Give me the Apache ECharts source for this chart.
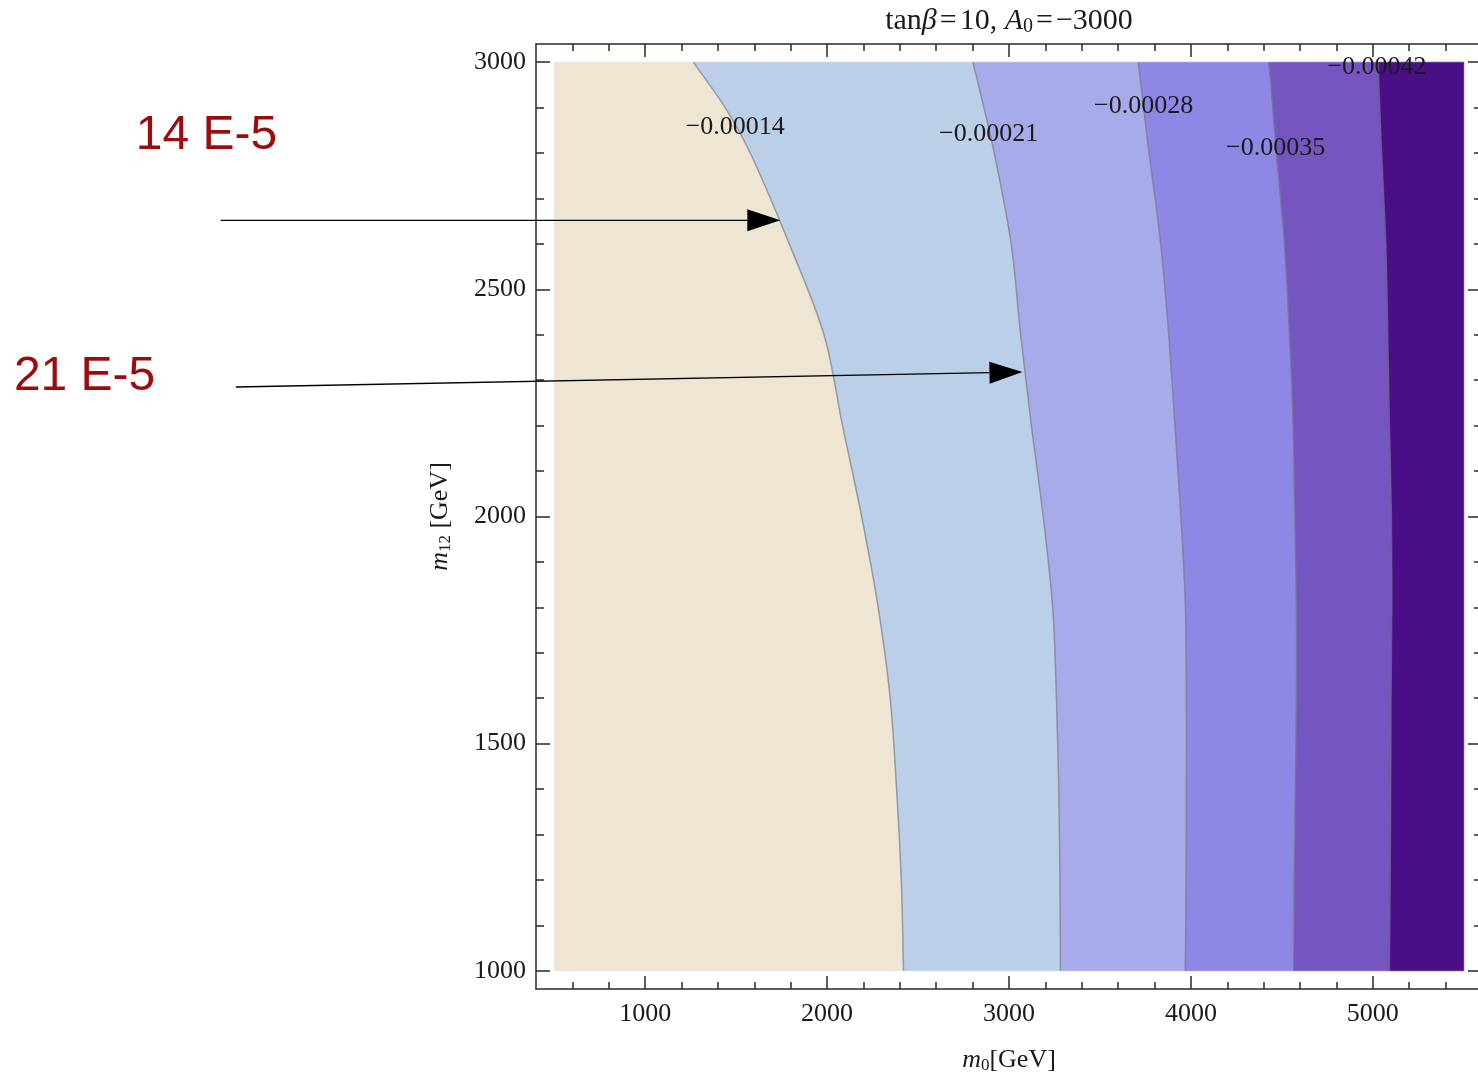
<!DOCTYPE html>
<html>
<head>
<meta charset="utf-8">
<script src="https://cdn.jsdelivr.net/npm/echarts@6/dist/echarts.min.js"></script>
<style>
html, body { margin: 0; padding: 0; background: #fff; }
#chart { width: 1478px; height: 1078px; }
</style>
</head>
<body>
<div id="chart"></div>
<script>
// m12 sample heights and the m0 position of each contour at those heights
const m12 = [1000, 1200, 1400, 1600, 1800, 2000, 2200, 2400, 2600, 2800, 2900, 3000];
const c014 = [2420, 2408, 2382, 2347, 2281, 2190, 2085, 1983, 1792, 1578, 1440, 1264];
const c021 = [3283, 3280, 3274, 3261, 3240, 3188, 3123, 3064, 3012, 2919, 2862, 2802];
const c028 = [3969, 3974, 3975, 3975, 3970, 3945, 3912, 3878, 3834, 3770, 3740, 3710];
const c035 = [4565, 4568, 4574, 4580, 4580, 4571, 4562, 4542, 4514, 4470, 4450, 4429];
const c042 = [5091, 5095, 5098, 5100, 5104, 5102, 5091, 5082, 5071, 5048, 5038, 5028];
const m0Range = [500, 5500];

const contourLabels = ["\u22120.00014", "\u22120.00021", "\u22120.00028", "\u22120.00035", "\u22120.00042"];
const contourLabelAt = [[1495, 2857], [2888, 2842], [3740, 2904], [4466, 2811], [5022, 2989]];

const noteText = ["14 E-5", "21 E-5"];
const noteAt = [[-1800, 2837], [-2470, 2307]];
const arrowFrom = [[-1333, 2652], [-1250, 2285]];
const arrowTo = [[1743, 2652], [3074, 2318]];

const xMajor = [1000, 2000, 3000, 4000, 5000];
const yMajor = [1000, 1500, 2000, 2500, 3000];
const xMinor = [];
for (let v = 600; v <= 5400; v += 200) xMinor.push(v);
const yMinor = [];
for (let v = 1000; v <= 3000; v += 100) yMinor.push(v);

const bandColors = ["#eee5d3", "#bccfe8", "#a7abea", "#8f87e5", "#7555c0", "#4a0f86"];
const curves = [c014, c021, c028, c035, c042];
const edges = [m12.map(() => m0Range[0]), ...curves, m12.map(() => m0Range[1])];

const serif = '"Liberation Serif", "Times New Roman", serif';
const ink = "#1a1a1a";
const frame = {color: "#2a2a2a", width: 1.5};

const chart = echarts.init(document.getElementById("chart"));

function richFor(size, subSize) {
    return {
        fontFamily: serif, fontSize: size, lineHeight: size + 2, color: ink,
        rich: {
            i: {fontFamily: serif, fontStyle: "italic", fontSize: size, lineHeight: size + 2, color: ink},
            s: {fontFamily: serif, fontSize: subSize, lineHeight: 8, verticalAlign: "bottom", color: ink},
            e: {fontFamily: serif, fontSize: size, lineHeight: size + 2, color: ink, padding: [0, 3]}
        }
    };
}

// catmull-rom through pixel points, as bezier segments (no leading M)
function bezierThrough(pts) {
    let d = "";
    for (let i = 0; i < pts.length - 1; i++) {
        const p0 = pts[Math.max(i - 1, 0)], p1 = pts[i], p2 = pts[i + 1], p3 = pts[Math.min(i + 2, pts.length - 1)];
        const c1 = [p1[0] + (p2[0] - p0[0]) / 6, p1[1] + (p2[1] - p0[1]) / 6];
        const c2 = [p2[0] - (p3[0] - p1[0]) / 6, p2[1] - (p3[1] - p1[1]) / 6];
        d += ` C${c1[0]},${c1[1]} ${c2[0]},${c2[1]} ${p2[0]},${p2[1]}`;
    }
    return d;
}

function xAxisOf(position, ticks, len, extra) {
    return Object.assign({
        type: "value", position, min: 400, max: 5600,
        axisLine: {show: true, onZero: false, lineStyle: frame},
        axisTick: {show: true, inside: true, length: len, customValues: ticks, lineStyle: frame},
        axisLabel: {show: false},
        splitLine: {show: false}
    }, extra || {});
}

function yAxisOf(position, ticks, len, extra) {
    return Object.assign({
        type: "value", position, min: 960, max: 3040,
        axisLine: {show: true, onZero: false, lineStyle: frame},
        axisTick: {show: true, inside: true, length: len, customValues: ticks, lineStyle: frame},
        axisLabel: {show: false},
        splitLine: {show: false}
    }, extra || {});
}

const tickLabel = {show: true, fontFamily: serif, fontSize: 26, color: ink, formatter: v => String(v)};

chart.setOption({
    animation: false,
    backgroundColor: "#fff",
    grid: {left: 536, top: 44, right: -4, bottom: 89, outerBoundsMode: "none"},
    xAxis: [
        xAxisOf("bottom", xMinor, 7, {
            axisLabel: Object.assign({customValues: xMajor, margin: 12}, tickLabel),
            name: "{i|m}{s|0}[GeV]", nameLocation: "middle", nameGap: 57, nameTextStyle: richFor(26, 17)
        }),
        xAxisOf("bottom", xMajor, 13, {axisLine: {show: false}}),
        xAxisOf("top", xMinor, 7, {
            name: "tan{i|\u03b2}{e|=}10, {i|A}{s|0}{e|=}\u22123000", nameLocation: "middle", nameGap: 7,
            nameTextStyle: richFor(30, 20)
        }),
        xAxisOf("top", xMajor, 13, {axisLine: {show: false}})
    ],
    yAxis: [
        yAxisOf("left", yMinor, 8, {
            axisLabel: Object.assign({customValues: yMajor, margin: 10}, tickLabel),
            name: "{i|m}{s|12} [GeV]", nameLocation: "middle", nameRotate: 90, nameGap: 82, nameTextStyle: richFor(26, 17)
        }),
        yAxisOf("left", yMajor, 14, {axisLine: {show: false}}),
        yAxisOf("right", yMinor, 8),
        yAxisOf("right", yMajor, 14, {axisLine: {show: false}})
    ],
    series: [
        {
            type: "custom", coordinateSystem: "cartesian2d", z: 1,
            data: bandColors.map((c, i) => [edges[i][0], m12[0]]),
            renderItem: (params, api) => {
                const i = params.dataIndex;
                const left = m12.map((y, k) => api.coord([edges[i][k], y]));
                const right = m12.map((y, k) => api.coord([edges[i + 1][k], y])).reverse();
                const d = `M${left[0][0]},${left[0][1]}` + bezierThrough(left) +
                    ` L${right[0][0]},${right[0][1]}` + bezierThrough(right) + " Z";
                return {type: "path", shape: {pathData: d}, style: {fill: bandColors[i], stroke: bandColors[i], lineWidth: 0.6}};
            }
        },
        {
            type: "custom", coordinateSystem: "cartesian2d", z: 2,
            data: curves.map(c => [c[0], m12[0]]),
            renderItem: (params, api) => {
                const pts = m12.map((y, k) => api.coord([curves[params.dataIndex][k], y]));
                return {
                    type: "path",
                    shape: {pathData: `M${pts[0][0]},${pts[0][1]}` + bezierThrough(pts)},
                    style: {fill: null, stroke: "rgba(120,120,130,0.65)", lineWidth: 1.5}
                };
            }
        },
        {
            type: "custom", coordinateSystem: "cartesian2d", z: 3, clip: false,
            data: contourLabelAt,
            renderItem: (params, api) => {
                const p = api.coord([api.value(0), api.value(1)]);
                return {
                    type: "text", x: p[0], y: p[1],
                    style: {text: contourLabels[params.dataIndex], align: "center", verticalAlign: "middle",
                        font: `26px ${serif}`, fill: ink}
                };
            }
        },
        {
            type: "custom", coordinateSystem: "cartesian2d", z: 4, clip: false,
            data: arrowFrom.map((f, i) => [f[0], f[1], arrowTo[i][0], arrowTo[i][1]]),
            renderItem: (params, api) => {
                const a = api.coord([api.value(0), api.value(1)]);
                const b = api.coord([api.value(2), api.value(3)]);
                const ang = Math.atan2(b[1] - a[1], b[0] - a[0]);
                const len = 33, half = 11;
                const bx = b[0] - len * Math.cos(ang), by = b[1] - len * Math.sin(ang);
                const nx = -Math.sin(ang) * half, ny = Math.cos(ang) * half;
                const t = api.coord(noteAt[params.dataIndex]);
                return {
                    type: "group",
                    children: [
                        {type: "line", shape: {x1: a[0], y1: a[1], x2: bx, y2: by}, style: {stroke: "#000", lineWidth: 1.3}},
                        {type: "polygon", shape: {points: [b, [bx + nx, by + ny], [bx - nx, by - ny]]}, style: {fill: "#000"}},
                        {type: "text", x: t[0], y: t[1],
                            style: {text: noteText[params.dataIndex], align: "left", verticalAlign: "middle",
                                font: '48px "Liberation Sans", Arial, sans-serif', fill: "#9c0c0c"}}
                    ]
                };
            }
        }
    ]
});
</script>
</body>
</html>
